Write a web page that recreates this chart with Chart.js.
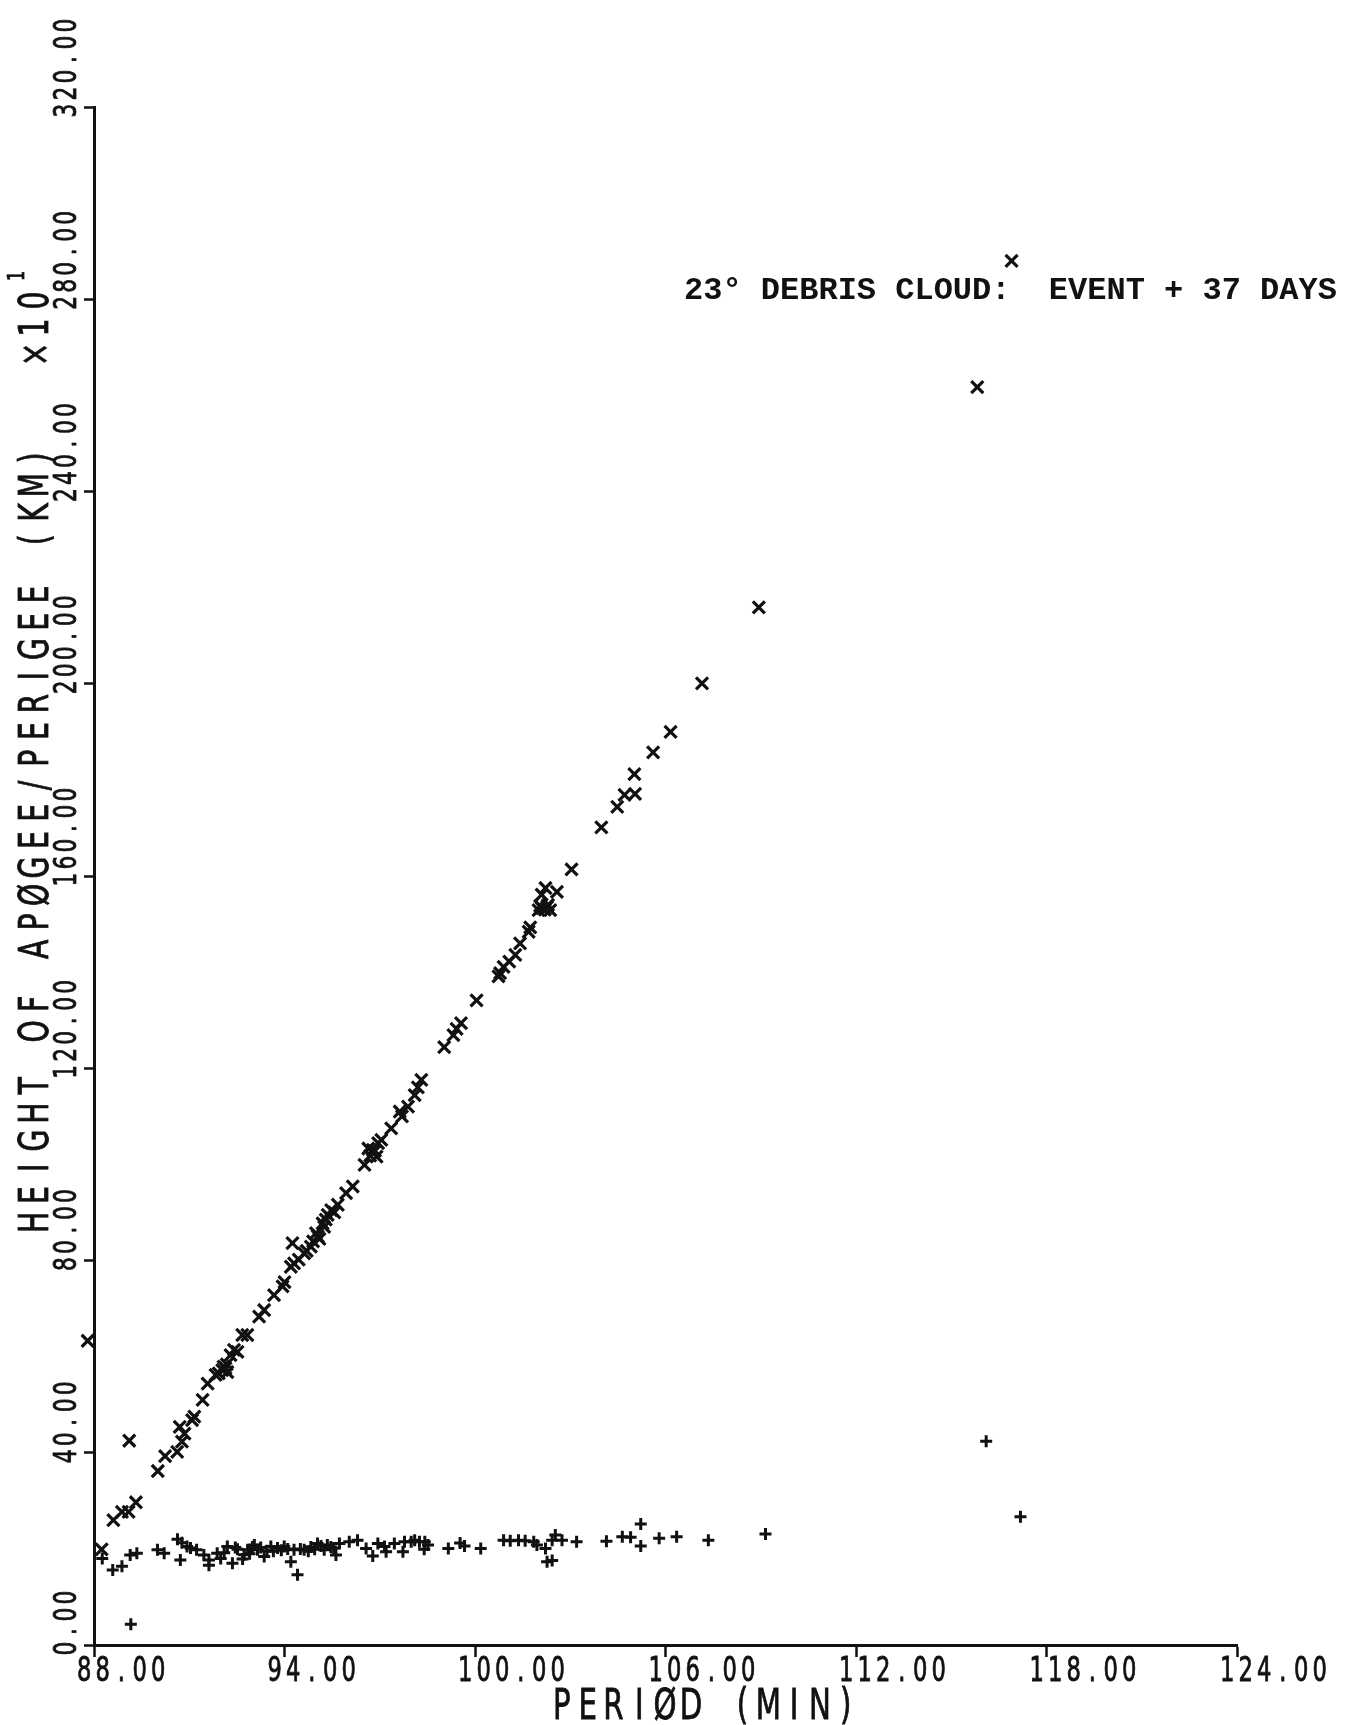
<!DOCTYPE html>
<html>
<head>
<meta charset="utf-8">
<script src="https://cdn.jsdelivr.net/npm/chart.js@4.4.1/dist/chart.umd.min.js"></script>
<style>
  html, body { margin: 0; padding: 0; background: #fff; }
  canvas { display: block; }
</style>
</head>
<body>
<canvas id="debrisChart" width="1352" height="1725"></canvas>
<script>
// apogee heights (x marks), km x 10
const apogeePeriod = [
  87.80, 88.24, 88.61, 88.88, 89.09, 89.11, 89.32, 90.01, 90.24, 90.62,
  90.70, 90.77, 90.85, 91.09, 91.16, 91.42, 91.58, 91.83, 91.93, 92.04,
  92.08, 92.14, 92.18, 92.20, 92.30, 92.41, 92.52, 92.67, 92.83, 93.20,
  93.36, 93.67, 93.94, 94.00, 94.20, 94.25, 94.30, 94.45, 94.62, 94.70,
  94.83, 94.90, 94.99, 95.05, 95.10, 95.20, 95.25, 95.30, 95.36, 95.47,
  95.57, 95.68, 95.94, 96.15, 96.52, 96.64, 96.70, 96.78, 96.85, 96.90,
  96.95, 97.05, 97.36, 97.63, 97.70, 97.89, 98.10, 98.20, 98.31, 99.03,
  99.32, 99.42, 99.56, 100.05, 100.74, 100.79, 100.90, 101.08, 101.27, 101.42,
  101.69, 101.74, 102.00, 102.05, 102.10, 102.11, 102.20, 102.22, 102.27, 102.30,
  102.37, 102.58, 103.04, 103.98, 104.48, 104.71, 105.02, 105.04, 105.61, 106.16,
  107.15, 108.94, 115.82, 116.90
];
const apogeeHeight = [
  63.3, 19.9, 26.0, 27.7, 27.7, 42.5, 29.7, 36.2, 39.3, 40.2,
  45.4, 42.3, 44.0, 46.8, 47.5, 51.0, 54.4, 56.2, 56.5, 57.2,
  57.9, 57.6, 58.4, 56.8, 60.3, 61.4, 61.0, 64.5, 64.5, 68.3,
  69.7, 72.8, 74.6, 75.5, 78.7, 83.6, 79.4, 80.2, 81.5, 82.0,
  82.9, 84.0, 85.7, 85.0, 84.5, 87.7, 87.0, 88.5, 89.5, 90.5,
  90.0, 91.6, 94.0, 95.4, 99.9, 103.3, 101.8, 103.0, 102.8, 101.6,
  104.4, 105.1, 107.5, 111.0, 110.0, 112.0, 114.4, 116.0, 117.6, 124.4,
  126.9, 128.2, 129.4, 134.1, 139.1, 139.8, 141.1, 142.2, 143.6, 146.0,
  148.4, 149.3, 152.9, 153.8, 156.1, 153.3, 153.0, 157.5, 153.6, 154.0,
  152.9, 156.7, 161.4, 170.1, 174.4, 176.9, 181.2, 177.1, 185.7, 190.0,
  200.1, 215.9, 261.7, 288.0
];

// perigee heights (+ marks)
const perigeePeriod = [
  88.26, 88.59, 88.88, 89.14, 89.16, 89.35, 90.00, 90.21, 90.63, 90.72,
  90.77, 90.93, 91.04, 91.23, 91.46, 91.62, 91.62, 91.88, 91.99, 92.10,
  92.20, 92.36, 92.45, 92.52, 92.68, 92.73, 92.84, 92.90, 92.99, 93.05,
  93.15, 93.25, 93.36, 93.45, 93.57, 93.65, 93.78, 93.90, 93.99, 94.10,
  94.20, 94.30, 94.41, 94.50, 94.62, 94.75, 94.83, 94.95, 95.04, 95.15,
  95.25, 95.35, 95.46, 95.55, 95.62, 95.73, 96.04, 96.30, 96.57, 96.78,
  96.94, 97.15, 97.20, 97.46, 97.73, 97.78, 97.99, 98.10, 98.25, 98.40,
  98.42, 98.52, 99.16, 99.53, 99.67, 100.18, 100.90, 101.11, 101.37, 101.58,
  101.85, 101.95, 102.22, 102.27, 102.43, 102.43, 102.53, 102.74, 103.20, 104.14,
  104.64, 104.90, 105.22, 105.22, 105.80, 106.35, 107.35, 109.15, 116.10, 117.18
];
const perigeeHeight = [
  18.0, 15.6, 16.4, 18.7, 4.3, 19.1, 19.8, 19.1, 22.0, 17.7,
  21.3, 20.5, 20.2, 19.8, 18.7, 16.6, 17.7, 19.1, 18.0, 19.2,
  20.5, 17.0, 20.3, 19.9, 17.9, 18.8, 19.8, 19.0, 20.4, 20.8,
  19.8, 20.3, 18.4, 19.6, 20.5, 19.5, 20.2, 19.7, 20.5, 20.0,
  17.3, 19.8, 14.6, 20.0, 19.8, 19.5, 20.4, 19.9, 21.1, 20.6,
  19.8, 20.8, 20.4, 20.2, 18.7, 21.1, 21.5, 21.8, 20.1, 18.5,
  21.1, 20.5, 19.4, 21.1, 19.4, 21.5, 21.5, 21.8, 21.5, 19.9,
  21.5, 20.8, 20.1, 21.2, 20.6, 20.1, 21.8, 21.7, 21.8, 21.7,
  21.5, 20.8, 20.1, 17.3, 17.6, 21.8, 22.9, 21.8, 21.5, 21.6,
  22.5, 22.4, 25.2, 20.6, 22.2, 22.5, 21.8, 23.1, 42.4, 26.7
];

const xTickValues = [88, 94, 100, 106, 112, 118, 124];
const xTickLabels = ['88.00', '94.00', '100.00', '106.00', '112.00', '118.00', '124.00'];
const yTickValues = [0, 40, 80, 120, 160, 200, 240, 280, 320];
const yTickLabels = ['0.00', '40.00', '80.00', '120.00', '160.00', '200.00', '240.00', '280.00', '320.00'];
const xTitle = 'PERIØD (MIN)';
const yTitle = 'HEIGHT OF APØGEE/PERIGEE (KM)';
const yMultiplier = '×10';
const yExponent = '1';
const noteText = '23° DEBRIS CLOUD:  EVENT + 37 DAYS';

const ink = '#111';

// plotter style lettering: fixed pitch, narrow glyphs
function plotterText(ctx, text, x, y, angle, cap, advance) {
  const size = cap / 0.72;
  ctx.save();
  ctx.font = size + 'px "Liberation Sans Narrow", "DejaVu Sans Condensed", "DejaVu Sans", sans-serif';
  const sx = Math.min(1, cap * 0.6 / ctx.measureText('0').width);
  ctx.translate(x, y);
  ctx.rotate(angle);
  ctx.fillStyle = ink;
  ctx.strokeStyle = ink;
  ctx.lineWidth = 0.8;
  ctx.textAlign = 'center';
  ctx.textBaseline = 'alphabetic';
  [...text].forEach((ch, i) => {
    ctx.save();
    ctx.translate(i * advance + advance / 2, cap / 2);
    ctx.scale(sx, 1);
    ctx.fillText(ch, 0, 0);
    ctx.strokeText(ch, 0, 0);
    ctx.restore();
  });
  ctx.restore();
}

const labelsPlugin = {
  id: 'plotterLabels',
  afterDraw(chart) {
    const ctx = chart.ctx;
    const xs = chart.scales.x, ys = chart.scales.y;
    const area = chart.chartArea;

    xTickValues.forEach((v, i) => {
      plotterText(ctx, xTickLabels[i], xs.getPixelForValue(v) - 19, area.bottom + 24, 0, 24, 18.5);
    });
    yTickValues.forEach((v, i) => {
      plotterText(ctx, yTickLabels[i], area.left - 30, ys.getPixelForValue(v) + 12, -Math.PI / 2, 23, 17);
    });

    plotterText(ctx, xTitle, 549, area.bottom + 58, 0, 31, 25.8);
    plotterText(ctx, yTitle, 33, 1236, -Math.PI / 2, 30, 27.3);
    plotterText(ctx, yMultiplier, 33, 368, -Math.PI / 2, 30, 27);
    plotterText(ctx, yExponent, 15, 282, -Math.PI / 2, 17, 12);

    ctx.save();
    ctx.font = 'bold 32px "Liberation Mono", "DejaVu Sans Mono", monospace';
    ctx.fillStyle = ink;
    ctx.textAlign = 'left';
    ctx.textBaseline = 'alphabetic';
    ctx.fillText(noteText, 684, 299);
    ctx.restore();
  }
};

const toPoints = (xs, ys) => xs.map((p, i) => ({ x: p, y: ys[i] }));

new Chart(document.getElementById('debrisChart'), {
  type: 'scatter',
  data: {
    datasets: [{
      label: 'Apogee',
      data: toPoints(apogeePeriod, apogeeHeight),
      pointStyle: 'crossRot',
      pointRadius: 8.5,
      borderWidth: 3.2,
      borderColor: ink,
      backgroundColor: ink,
      clip: false
    }, {
      label: 'Perigee',
      data: toPoints(perigeePeriod, perigeeHeight),
      pointStyle: 'cross',
      pointRadius: 6,
      borderWidth: 3,
      borderColor: ink,
      backgroundColor: ink,
      clip: false
    }]
  },
  options: {
    responsive: false,
    animation: false,
    events: [],
    layout: { padding: { top: 107, right: 115, left: 0, bottom: 0 } },
    plugins: {
      legend: { display: false },
      tooltip: { enabled: false }
    },
    scales: {
      x: {
        type: 'linear',
        min: 88,
        max: 124,
        afterBuildTicks: s => { s.ticks = xTickValues.map(v => ({ value: v })); },
        afterFit: s => { s.height = 80; },
        ticks: { display: false },
        grid: { display: true, drawOnChartArea: false, drawTicks: true, tickLength: 12, tickWidth: 2.5, tickColor: ink },
        border: { display: true, color: ink, width: 3 }
      },
      y: {
        type: 'linear',
        min: 0,
        max: 320,
        afterBuildTicks: s => { s.ticks = yTickValues.map(v => ({ value: v })); },
        afterFit: s => { s.width = 94; },
        ticks: { display: false },
        grid: { display: true, drawOnChartArea: false, drawTicks: true, tickLength: 10, tickWidth: 2.5, tickColor: ink },
        border: { display: true, color: ink, width: 3 }
      }
    }
  },
  plugins: [labelsPlugin]
});
</script>
</body>
</html>
